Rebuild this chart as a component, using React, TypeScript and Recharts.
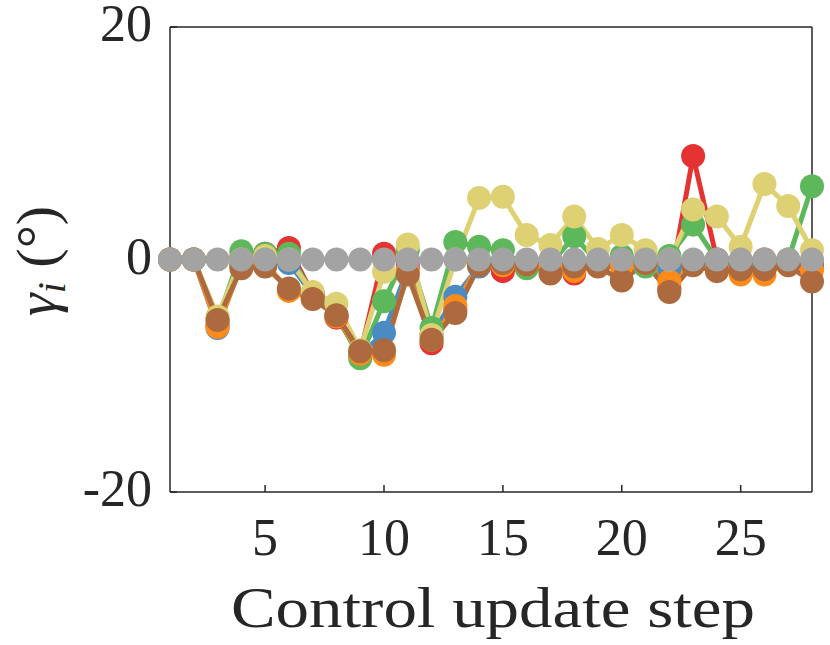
import React from "react";
import { LineChart, Line, XAxis, YAxis } from "recharts";

const steps = [1, 2, 3, 4, 5, 6, 7, 8, 9, 10, 11, 12, 13, 14, 15, 16, 17, 18, 19, 20, 21, 22, 23, 24, 25, 26, 27, 28];
const red = [0, 0, -5.6, 0.2, 0.5, 1.0, -3.0, -5.0, -8.1, 0.5, -0.5, -7.2, -4.3, -0.3, -1.0, -0.6, -0.4, -1.2, -0.3, -0.5, -0.2, -2.5, 8.9, 0.0, -0.3, 0.0, -0.2, -0.5];
const blue = [0, 0, -5.9, -0.3, -0.2, -0.3, -3.0, -4.8, -8.2, -6.3, -0.8, -6.5, -3.2, -0.6, -0.3, -0.3, -0.5, -0.5, -0.4, -0.3, -0.2, -0.75, -0.3, -0.5, -0.3, -0.5, -0.2, -0.3];
const green = [0, 0, -5.3, 0.7, 0.5, 0.5, -3.0, -4.8, -8.5, -3.6, 0.8, -5.9, 1.5, 1.1, 0.8, -0.75, -0.4, 2.0, -0.3, 0.3, -0.6, 0.3, 3.0, 0.0, -0.2, -0.2, 0.0, 6.3];
const orange = [0, 0, -5.8, -0.5, -0.3, -2.7, -3.3, -4.9, -8.1, -8.2, -1.0, -6.9, -4.0, -0.4, -0.5, -0.4, -0.6, -1.0, -0.4, -0.5, -0.3, -1.9, -0.3, -0.8, -1.3, -1.3, -0.3, -0.9];
const yellow = [0, 0, -4.9, 0.0, 0.3, 0.0, -2.8, -3.8, -7.8, -1.05, 1.3, -6.5, 0.0, 5.3, 5.4, 2.1, 1.25, 3.7, 0.9, 2.1, 0.8, 0.0, 4.3, 3.7, 1.1, 6.5, 4.6, 0.8];
const brown = [0, 0, -5.2, -0.75, -0.6, -2.5, -3.4, -4.8, -7.9, -7.8, -1.3, -6.9, -4.6, -0.5, -0.3, -0.4, -1.2, -0.6, -0.6, -1.8, -0.3, -2.8, -0.5, -1.0, -0.85, -0.85, -0.5, -1.9];
const gray = [0, 0, 0, 0, 0, 0, 0, 0, 0, 0, 0, 0, 0, 0, 0, 0, 0, 0, 0, 0, 0, 0, 0, 0, 0, 0, 0, 0];

const xTicks = [5, 10, 15, 20, 25];
const yTicks = [-20, 0, 20];

const series = [
  { key: "red", color: "#E53232", values: red },
  { key: "blue", color: "#4A8BC4", values: blue },
  { key: "green", color: "#5DB75B", values: green },
  { key: "orange", color: "#FF8C1A", values: orange },
  { key: "yellow", color: "#DDD173", values: yellow },
  { key: "brown", color: "#AC6A3E", values: brown },
  { key: "gray", color: "#A3A3A3", values: gray },
];

const data = steps.map((s, i) => {
  const row: Record<string, number> = { step: s };
  series.forEach((ser) => {
    row[ser.key] = ser.values[i];
  });
  return row;
});

const FONT = '"Liberation Serif", "DejaVu Serif", serif';
const INK = "#262626";

const XTick = (props: any) => {
  const { x, payload } = props;
  return (
    <text x={x} y={555} textAnchor="middle" fontSize={52} fontFamily={FONT} fill={INK}>
      {payload.value}
    </text>
  );
};

const YTick = (props: any) => {
  const { y, payload } = props;
  return (
    <text x={152} y={y} dy={14} textAnchor="end" fontSize={52} fontFamily={FONT} fill={INK}>
      {String(payload.value)}
    </text>
  );
};

export default function App() {
  return (
    <div style={{ position: "absolute", left: 0, top: 0, width: 830, height: 645, background: "#fff" }}>
      <LineChart
        width={830}
        height={645}
        data={data}
        margin={{ top: 17, right: 8, bottom: 93, left: 110 }}
      >
        <XAxis
          dataKey="step"
          type="number"
          domain={[1, 28]}
          ticks={xTicks}
          height={60}
          tickSize={-7}
          tick={<XTick />}
          axisLine={{ stroke: INK, strokeWidth: 1.5 }}
          tickLine={{ stroke: INK, strokeWidth: 1.5 }}
        />
        <XAxis
          xAxisId="top"
          orientation="top"
          dataKey="step"
          type="number"
          domain={[1, 28]}
          ticks={xTicks}
          height={10}
          tickSize={-7}
          tick={false}
          axisLine={{ stroke: INK, strokeWidth: 1.5 }}
          tickLine={{ stroke: INK, strokeWidth: 1.5 }}
        />
        <YAxis
          type="number"
          domain={[-20, 20]}
          ticks={yTicks}
          width={60}
          tickSize={-7}
          tick={<YTick />}
          axisLine={{ stroke: INK, strokeWidth: 1.5 }}
          tickLine={{ stroke: INK, strokeWidth: 1.5 }}
        />
        <YAxis
          yAxisId="right"
          orientation="right"
          type="number"
          domain={[-20, 20]}
          ticks={yTicks}
          width={10}
          tickSize={-7}
          tick={false}
          axisLine={{ stroke: INK, strokeWidth: 1.5 }}
          tickLine={{ stroke: INK, strokeWidth: 1.5 }}
        />
        {series.map((ser) => (
          <Line
            key={ser.key}
            dataKey={ser.key}
            stroke={ser.color}
            strokeWidth={5}
            dot={{ r: 12, fill: ser.color, stroke: ser.color, strokeWidth: 0 }}
            activeDot={false}
            isAnimationActive={false}
          />
        ))}
        <text x={493} y={627} textAnchor="middle" fontSize={57} fontFamily={FONT} fill={INK} textLength={524} lengthAdjust="spacingAndGlyphs">
          Control update step
        </text>
        <text transform="translate(56,261) rotate(-90)" textAnchor="middle" fontFamily={FONT} fill={INK} fontSize={58}>
          <tspan fontStyle="italic">γ</tspan>
          <tspan fontStyle="italic" fontSize={40} dy={9}>i</tspan>
          <tspan dy={-9}>{" (°)"}</tspan>
        </text>
      </LineChart>
    </div>
  );
}
